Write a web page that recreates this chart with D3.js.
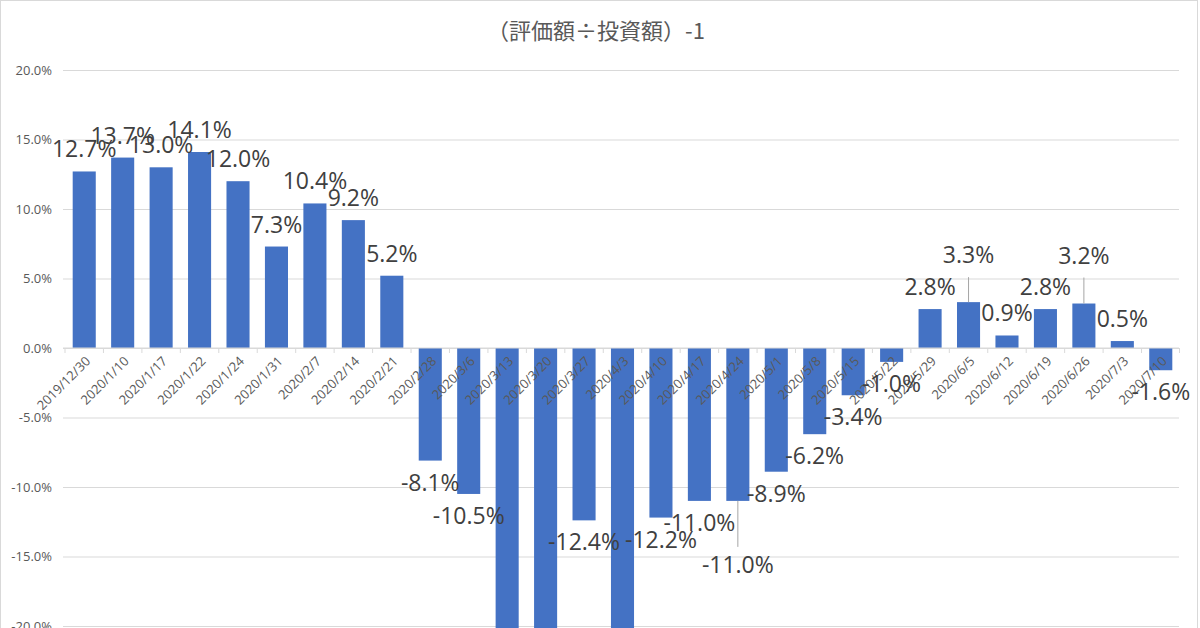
<!DOCTYPE html>
<html lang="ja">
<head>
<meta charset="UTF-8">
<title>(評価額÷投資額)-1</title>
<script src="https://d3js.org/d3.v7.min.js"></script>
<style>
    * { margin: 0; padding: 0; }
    body { background: #fff; }
    svg { display: block; font-family: "Open Sans", "Noto Sans", sans-serif; }
</style>
</head>
<body>
<script>
    // weekly dates
    var dates = ["2019/12/30", "2020/1/10", "2020/1/17", "2020/1/22", "2020/1/24", "2020/1/31",
        "2020/2/7", "2020/2/14", "2020/2/21", "2020/2/28", "2020/3/6", "2020/3/13", "2020/3/20",
        "2020/3/27", "2020/4/3", "2020/4/10", "2020/4/17", "2020/4/24", "2020/5/1", "2020/5/8",
        "2020/5/15", "2020/5/22", "2020/5/29", "2020/6/5", "2020/6/12", "2020/6/19", "2020/6/26",
        "2020/7/3", "2020/7/10"]
    // (評価額÷投資額)-1 in %
    var returns = [12.7, 13.7, 13.0, 14.1, 12.0, 7.3, 10.4, 9.2, 5.2, -8.1, -10.5, -25.0, -23.5,
        -12.4, -21.5, -12.2, -11.0, -11.0, -8.9, -6.2, -3.4, -1.0, 2.8, 3.3, 0.9, 2.8, 3.2, 0.5, -1.6]
    var yTicks = [20, 15, 10, 5, 0, -5, -10, -15, -20]
    var title = "（評価額÷投資額）-1"

    // labels that were dragged away from their bar (with a leader line)
    var labelShift = { "2020/4/24": 42, "2020/6/5": -25, "2020/6/26": -26 }

    var W = 1200, H = 628
    var svg = d3.select("body").append("svg")
        .attr("width", W)
        .attr("height", H)

    svg.append("rect")
        .attr("x", 0.5).attr("y", 0.5)
        .attr("width", 1197).attr("height", H + 10)
        .attr("fill", "#fff")
        .attr("stroke", "#d9d9d9")

    var x = d3.scaleBand()
        .domain(dates)
        .range([65, 1180])
        .paddingInner(0.4)
        .paddingOuter(0.2)

    var y = d3.scaleLinear()
        .domain([-20, 20])
        .range([626, 70])

    svg.append("text")
        .attr("x", 596)
        .attr("y", 39)
        .attr("text-anchor", "middle")
        .style("font-family", "'Noto Sans CJK JP', sans-serif")
        .style("font-size", "22px")
        .attr("fill", "#595959")
        .text(title)

    // gridlines + y labels
    var yAxis = svg.append("g")
        .attr("transform", "translate(63,0)")
        .call(d3.axisLeft(y)
            .tickValues(yTicks)
            .tickSize(-(1179 - 63))
            .tickPadding(11)
            .tickFormat(function(d) { return d.toFixed(1) + "%" }))
    yAxis.select(".domain").remove()
    yAxis.selectAll(".tick line").attr("stroke", "#d9d9d9")
    yAxis.selectAll(".tick text")
        .attr("fill", "#595959")
        .style("font-size", "13px")
        .style("font-family", "'Open Sans', sans-serif")

    // bars
    svg.append("g").selectAll("rect")
        .data(returns)
        .join("rect")
        .attr("x", function(d, i) { return x(dates[i]) })
        .attr("width", x.bandwidth())
        .attr("y", function(d) { return d >= 0 ? y(d) : y(0) })
        .attr("height", function(d) { return Math.abs(y(d) - y(0)) })
        .attr("fill", "#4472c4")

    // category axis on the zero line
    var xAxis = svg.append("g")
    xAxis.append("line")
        .attr("x1", 63).attr("x2", 1179)
        .attr("y1", y(0)).attr("y2", y(0))
        .attr("stroke", "#d9d9d9")
    var edges = dates.map(function(d) { return x(d) - x.step() * x.paddingInner() / 2 })
    edges.push(1179.5)
    xAxis.selectAll(".tk")
        .data(edges)
        .join("line")
        .attr("class", "tk")
        .attr("x1", function(d) { return d }).attr("x2", function(d) { return d })
        .attr("y1", y(0)).attr("y2", y(0) + 5)
        .attr("stroke", "#d9d9d9")
    xAxis.selectAll("text")
        .data(dates)
        .join("text")
        .attr("text-anchor", "end")
        .attr("transform", function(d) {
            return "translate(" + (x(d) + x.bandwidth() / 2 + 7) + "," + (y(0) + 14) + ") rotate(-45)"
        })
        .attr("fill", "#595959")
        .style("font-size", "13px")
        .text(function(d) { return d })

    // data labels
    var pts = returns.map(function(v, i) {
        var base = v >= 0 ? y(v) - 14 : y(v) + 30
        return { v: v, date: dates[i], cx: x(dates[i]) + x.bandwidth() / 2,
                 ly: base + (labelShift[dates[i]] || 0), moved: !!labelShift[dates[i]] }
    })

    svg.append("g").selectAll("line")
        .data(pts.filter(function(p) { return p.moved }))
        .join("line")
        .attr("x1", function(p) { return p.cx }).attr("x2", function(p) { return p.cx })
        .attr("y1", function(p) { return y(p.v) })
        .attr("y2", function(p) { return p.v >= 0 ? p.ly + 14 : p.ly - 26 })
        .attr("stroke", "#a6a6a6")

    svg.append("g").selectAll("text")
        .data(pts)
        .join("text")
        .attr("x", function(p) { return p.cx })
        .attr("y", function(p) { return p.ly })
        .attr("text-anchor", "middle")
        .attr("fill", "#404040")
        .style("font-size", "23px")
        .text(function(p) { return p.v.toFixed(1) + "%" })
</script>
</body>
</html>
